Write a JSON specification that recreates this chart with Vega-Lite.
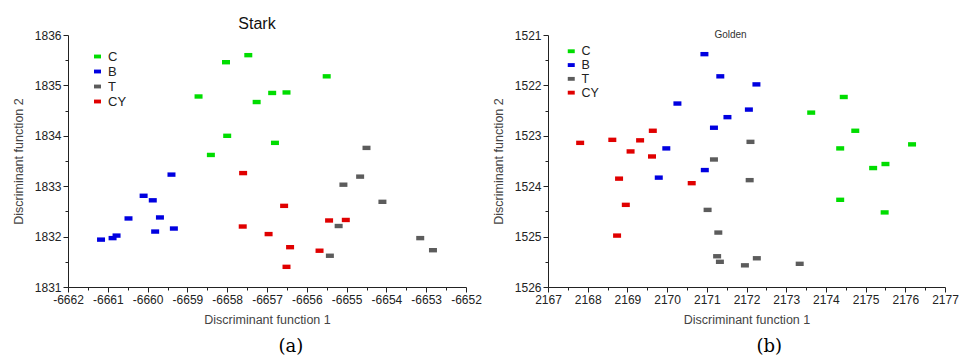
{
  "$schema": "https://vega.github.io/schema/vega-lite/v6.json",
  "padding": {"left": 12, "top": 16, "right": 5, "bottom": 0},
  "spacing": 10,
  "config": {
    "view": {"stroke": null},
    "font": "Liberation Sans",
    "axis": {"grid": false, "domainColor": "#222", "tickColor": "#222", "labelColor": "#222", "labelFontSize": 12, "titleFontSize": 12.5, "titleFontWeight": "normal", "titleColor": "#444", "labelPadding": 2, "labelOverlap": false, "labelFlush": false},
    "legend": {"symbolType": "M-1,-0.55H1V0.55H-1Z", "symbolSize": 49, "labelFontSize": 13, "rowPadding": 1, "labelOffset": 4, "symbolStrokeWidth": 0, "labelColor": "#222"}
  },
  "datasets": {
    "stark": [
      {"x": -6657.47, "y": 1835.6, "g": "C"}, {"x": -6658.03, "y": 1835.46, "g": "C"}, {"x": -6655.5, "y": 1835.18, "g": "C"}, {"x": -6658.72, "y": 1834.78, "g": "C"}, {"x": -6657.26, "y": 1834.67, "g": "C"}, {"x": -6656.87, "y": 1834.85, "g": "C"}, {"x": -6656.51, "y": 1834.86, "g": "C"}, {"x": -6658.0, "y": 1834.0, "g": "C"}, {"x": -6656.8, "y": 1833.86, "g": "C"}, {"x": -6658.41, "y": 1833.62, "g": "C"},
      {"x": -6659.4, "y": 1833.23, "g": "B"}, {"x": -6660.1, "y": 1832.81, "g": "B"}, {"x": -6659.87, "y": 1832.72, "g": "B"}, {"x": -6660.48, "y": 1832.36, "g": "B"}, {"x": -6659.69, "y": 1832.38, "g": "B"}, {"x": -6659.81, "y": 1832.1, "g": "B"}, {"x": -6659.34, "y": 1832.16, "g": "B"}, {"x": -6661.17, "y": 1831.94, "g": "B"}, {"x": -6660.88, "y": 1831.97, "g": "B"}, {"x": -6660.78, "y": 1832.02, "g": "B"},
      {"x": -6654.5, "y": 1833.76, "g": "T"}, {"x": -6654.66, "y": 1833.19, "g": "T"}, {"x": -6655.08, "y": 1833.03, "g": "T"}, {"x": -6654.1, "y": 1832.69, "g": "T"}, {"x": -6655.2, "y": 1832.21, "g": "T"}, {"x": -6655.42, "y": 1831.62, "g": "T"}, {"x": -6653.15, "y": 1831.97, "g": "T"}, {"x": -6652.83, "y": 1831.73, "g": "T"},
      {"x": -6657.6, "y": 1833.26, "g": "CY"}, {"x": -6656.57, "y": 1832.61, "g": "CY"}, {"x": -6657.61, "y": 1832.2, "g": "CY"}, {"x": -6656.96, "y": 1832.05, "g": "CY"}, {"x": -6656.42, "y": 1831.79, "g": "CY"}, {"x": -6656.51, "y": 1831.4, "g": "CY"}, {"x": -6655.68, "y": 1831.72, "g": "CY"}, {"x": -6655.44, "y": 1832.32, "g": "CY"}, {"x": -6655.02, "y": 1832.33, "g": "CY"}
    ],
    "golden": [
      {"x": 2170.94, "y": 1521.38, "g": "B"}, {"x": 2171.34, "y": 1521.82, "g": "B"}, {"x": 2172.25, "y": 1521.98, "g": "B"}, {"x": 2170.26, "y": 1522.36, "g": "B"}, {"x": 2172.06, "y": 1522.48, "g": "B"}, {"x": 2171.52, "y": 1522.63, "g": "B"}, {"x": 2171.18, "y": 1522.84, "g": "B"}, {"x": 2169.98, "y": 1523.25, "g": "B"}, {"x": 2170.95, "y": 1523.68, "g": "B"}, {"x": 2169.79, "y": 1523.83, "g": "B"},
      {"x": 2167.81, "y": 1523.14, "g": "CY"}, {"x": 2168.62, "y": 1523.08, "g": "CY"}, {"x": 2169.32, "y": 1523.09, "g": "CY"}, {"x": 2169.64, "y": 1522.9, "g": "CY"}, {"x": 2169.08, "y": 1523.31, "g": "CY"}, {"x": 2169.62, "y": 1523.41, "g": "CY"}, {"x": 2168.79, "y": 1523.85, "g": "CY"}, {"x": 2168.96, "y": 1524.37, "g": "CY"}, {"x": 2168.74, "y": 1524.98, "g": "CY"}, {"x": 2170.62, "y": 1523.94, "g": "CY"},
      {"x": 2172.1, "y": 1523.12, "g": "T"}, {"x": 2171.18, "y": 1523.47, "g": "T"}, {"x": 2172.08, "y": 1523.88, "g": "T"}, {"x": 2171.02, "y": 1524.47, "g": "T"}, {"x": 2171.29, "y": 1524.92, "g": "T"}, {"x": 2171.26, "y": 1525.39, "g": "T"}, {"x": 2171.33, "y": 1525.5, "g": "T"}, {"x": 2171.96, "y": 1525.57, "g": "T"}, {"x": 2172.26, "y": 1525.43, "g": "T"}, {"x": 2173.34, "y": 1525.54, "g": "T"},
      {"x": 2174.45, "y": 1522.23, "g": "C"}, {"x": 2173.63, "y": 1522.54, "g": "C"}, {"x": 2174.74, "y": 1522.9, "g": "C"}, {"x": 2174.36, "y": 1523.25, "g": "C"}, {"x": 2176.17, "y": 1523.17, "g": "C"}, {"x": 2175.19, "y": 1523.64, "g": "C"}, {"x": 2175.5, "y": 1523.56, "g": "C"}, {"x": 2174.36, "y": 1524.27, "g": "C"}, {"x": 2175.48, "y": 1524.52, "g": "C"}
    ]
  },
  "resolve": {"scale": {"color": "independent"}, "legend": {"color": "independent"}},
  "hconcat": [
    {
      "title": {"text": "(a)", "orient": "bottom", "anchor": "middle", "font": "DejaVu Serif", "fontSize": 18, "fontWeight": "normal", "color": "#000", "dx": 44, "offset": 12},
      "resolve": {"scale": {"color": "independent"}, "legend": {"color": "independent"}},
      "vconcat": [
        {
          "width": 398,
          "height": 252,
          "title": {"text": "Stark", "fontSize": 16, "fontWeight": "normal", "color": "#111", "dx": -10, "offset": -3},
          "data": {"name": "stark"},
          "mark": {"type": "point", "filled": true, "shape": "M-1,-0.55H1V0.55H-1Z", "size": 64, "opacity": 1},
          "encoding": {
            "x": {"field": "x", "type": "quantitative", "scale": {"domain": [-6662, -6652], "nice": false, "zero": false},
              "axis": {"title": "Discriminant function 1", "titlePadding": 8, "values": [-6662, -6661.5, -6661, -6660.5, -6660, -6659.5, -6659, -6658.5, -6658, -6657.5, -6657, -6656.5, -6656, -6655.5, -6655, -6654.5, -6654, -6653.5, -6653, -6652.5, -6652],
                "labelExpr": "datum.value % 1 === 0 ? toString(datum.value) : ''",
                "tickSize": {"condition": {"test": "datum.value % 1 === 0", "value": 5}, "value": 3}}},
            "y": {"field": "y", "type": "quantitative", "scale": {"domain": [1831, 1836], "nice": false, "zero": false},
              "axis": {"title": "Discriminant function 2", "titlePadding": 9, "values": [1831, 1831.5, 1832, 1832.5, 1833, 1833.5, 1834, 1834.5, 1835, 1835.5, 1836],
                "labelExpr": "datum.value % 1 === 0 ? toString(datum.value) : ''",
                "tickSize": {"condition": {"test": "datum.value % 1 === 0", "value": 5}, "value": 3}}},
            "color": {"field": "g", "type": "nominal", "scale": {"domain": ["C", "B", "T", "CY"], "range": ["#00dd00", "#0000e0", "#5c5c5c", "#e00000"]},
              "legend": {"title": null, "orient": "none", "legendX": 23, "legendY": 15}}
          }
        }
      ]
    },
    {
      "title": {"text": "(b)", "orient": "bottom", "anchor": "middle", "font": "DejaVu Serif", "fontSize": 18, "fontWeight": "normal", "color": "#000", "dx": 44, "offset": 12},
      "resolve": {"scale": {"color": "independent"}, "legend": {"color": "independent"}},
      "vconcat": [
        {
          "width": 397,
          "height": 252,
          "title": {"text": "Golden", "fontSize": 10, "fontWeight": "normal", "color": "#333", "dx": -16, "offset": -11},
          "data": {"name": "golden"},
          "mark": {"type": "point", "filled": true, "shape": "M-1,-0.55H1V0.55H-1Z", "size": 64, "opacity": 1},
          "encoding": {
            "x": {"field": "x", "type": "quantitative", "scale": {"domain": [2167, 2177], "nice": false, "zero": false},
              "axis": {"title": "Discriminant function 1", "titlePadding": 8, "values": [2167, 2167.5, 2168, 2168.5, 2169, 2169.5, 2170, 2170.5, 2171, 2171.5, 2172, 2172.5, 2173, 2173.5, 2174, 2174.5, 2175, 2175.5, 2176, 2176.5, 2177],
                "labelExpr": "datum.value % 1 === 0 ? toString(datum.value) : ''",
                "tickSize": {"condition": {"test": "datum.value % 1 === 0", "value": 5}, "value": 3}}},
            "y": {"field": "y", "type": "quantitative", "scale": {"domain": [1521, 1526], "nice": false, "zero": false, "reverse": true},
              "axis": {"title": "Discriminant function 2", "titlePadding": 9, "values": [1521, 1521.5, 1522, 1522.5, 1523, 1523.5, 1524, 1524.5, 1525, 1525.5, 1526],
                "labelExpr": "datum.value % 1 === 0 ? toString(datum.value) : ''",
                "tickSize": {"condition": {"test": "datum.value % 1 === 0", "value": 5}, "value": 3}}},
            "color": {"field": "g", "type": "nominal", "scale": {"domain": ["C", "B", "T", "CY"], "range": ["#00dd00", "#0000e0", "#5c5c5c", "#e00000"]},
              "legend": {"title": null, "orient": "none", "legendX": 17, "legendY": 10, "labelFontSize": 12.5, "rowPadding": 0.8}}
          }
        }
      ]
    }
  ]
}
